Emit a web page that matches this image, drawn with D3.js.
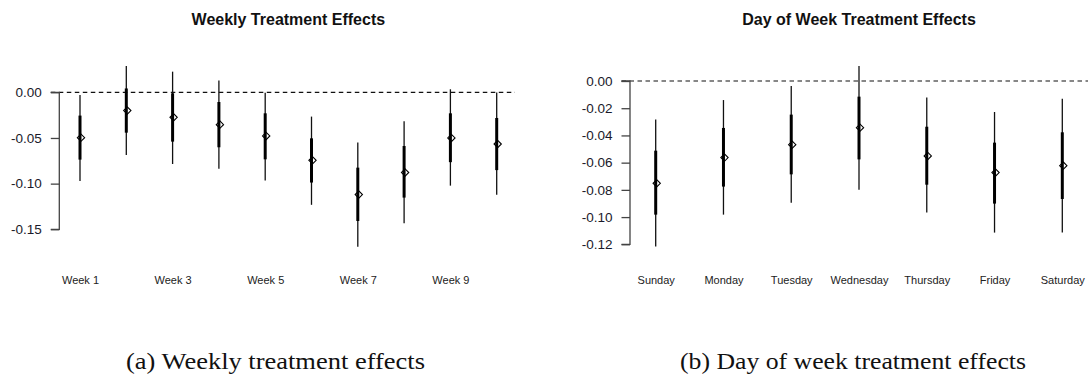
<!DOCTYPE html>
<html><head><meta charset="utf-8">
<script src="https://cdn.jsdelivr.net/npm/d3@7"></script>
<style>
html,body{margin:0;padding:0;background:#fff;}
svg{display:block;}
</style></head>
<body>
<svg id="chart" width="1088" height="375"></svg>
<script>
// ---- Data ----
const weekCategories = ["Week 1","Week 2","Week 3","Week 4","Week 5","Week 6","Week 7","Week 8","Week 9","Week 10"];
const weekShownLabels = ["Week 1","Week 3","Week 5","Week 7","Week 9"];
const weekEstimate = [-0.0497,-0.0200,-0.0274,-0.0354,-0.0478,-0.0745,-0.1120,-0.0878,-0.0500,-0.0566];
const weekInnerLow = [-0.0737,-0.0442,-0.0540,-0.0602,-0.0734,-0.0988,-0.1409,-0.1153,-0.0765,-0.0852];
const weekInnerHigh = [-0.0255,0.0042,-0.0011,-0.0106,-0.0230,-0.0504,-0.0825,-0.0588,-0.0230,-0.0281];
const weekOuterLow = [-0.0971,-0.0686,-0.0785,-0.0836,-0.0967,-0.1232,-0.1690,-0.1434,-0.1022,-0.1122];
const weekOuterHigh = [-0.0029,0.0288,0.0226,0.0128,-0.0005,-0.0266,-0.0551,-0.0318,0.0033,-0.0002];
const weekTicks = [0, -0.05, -0.10, -0.15];

const dayCategories = ["Sunday","Monday","Tuesday","Wednesday","Thursday","Friday","Saturday"];
const dayEstimate = [-0.0752,-0.0563,-0.0468,-0.0343,-0.0551,-0.0673,-0.0622];
const dayInnerLow = [-0.0982,-0.0776,-0.0686,-0.0576,-0.0762,-0.0901,-0.0867];
const dayInnerHigh = [-0.0512,-0.0345,-0.0247,-0.0115,-0.0336,-0.0453,-0.0377];
const dayOuterLow = [-0.1217,-0.0982,-0.0894,-0.0800,-0.0967,-0.1114,-0.1114];
const dayOuterHigh = [-0.0282,-0.0140,-0.0037,0.0110,-0.0122,-0.0228,-0.0130];
const dayTicks = [0, -0.02, -0.04, -0.06, -0.08, -0.10, -0.12];

const captions = ["(a) Weekly treatment effects", "(b) Day of week treatment effects"];

const SANS = "'Liberation Sans',Arial,sans-serif";
const SERIF = "'Liberation Serif','Times New Roman',serif";
const svg = d3.select("#chart");

function panel(cfg){
  const g = svg.append("g");
  const x = d3.scalePoint().domain(cfg.cats).range(cfg.xRange);
  const y = d3.scaleLinear().domain([0, cfg.ticks[cfg.ticks.length-1]]).range(cfg.yRange);

  // title
  g.append("text").attr("x", (cfg.xRange[0]+cfg.xRange[1])/2).attr("y", 25)
    .attr("text-anchor","middle").style("font-weight","bold").style("font-size","16px")
    .style("font-family", SANS).attr("fill","#111").text(cfg.title);

  // dashed zero line
  g.append("line").attr("x1", cfg.dashX[0]).attr("x2", cfg.dashX[1])
    .attr("y1", y(0)).attr("y2", y(0))
    .attr("stroke","#111").attr("stroke-width",1.2).attr("stroke-dasharray","4.5,3.5");

  // y axis
  const yAxis = d3.axisLeft(y).tickValues(cfg.ticks).tickFormat(d3.format(".2f")).tickSize(8.5).tickPadding(9);
  const ax = g.append("g").attr("transform",`translate(${cfg.axisX},0)`).call(yAxis);
  ax.select(".domain").attr("stroke","#444").attr("stroke-width",1.3).attr("d", `M-8.5,${y(0)}H0V${y(cfg.ticks[cfg.ticks.length-1])}H-8.5`);
  ax.selectAll(".tick line").attr("stroke","#444").attr("stroke-width",1.3);
  ax.selectAll(".tick text").style("font-size","13.5px").attr("fill","#1a1a2a")
    .style("font-family", SANS).text(d => d3.format(".2f")(d).replace("−","-"));

  // x labels
  const xAxis = d3.axisBottom(x).tickValues(cfg.shown).tickSize(0).tickPadding(0);
  const xa = g.append("g").attr("transform",`translate(0,276)`).call(xAxis);
  xa.select(".domain").remove();
  xa.selectAll(".tick text").style("font-size","11px").attr("fill","#222").attr("dy","0.71em")
    .style("font-family", SANS);

  const idx = d3.range(cfg.cats.length);
  g.selectAll(".thin").data(idx).join("line")
    .attr("x1", i => x(cfg.cats[i])).attr("x2", i => x(cfg.cats[i]))
    .attr("y1", i => y(cfg.oh[i])).attr("y2", i => y(cfg.ol[i]))
    .attr("stroke","#111").attr("stroke-width",1.3);
  g.selectAll(".thick").data(idx).join("line")
    .attr("x1", i => x(cfg.cats[i])).attr("x2", i => x(cfg.cats[i]))
    .attr("y1", i => y(cfg.ih[i])).attr("y2", i => y(cfg.il[i]))
    .attr("stroke","#000").attr("stroke-width",3);
  const dsym = d3.symbol().type(d3.symbolDiamond2).size(34);
  g.selectAll(".pt").data(idx).join("path")
    .attr("d", dsym())
    .attr("transform", i => `translate(${x(cfg.cats[i])+1},${y(cfg.est[i])})`)
    .attr("fill","none").attr("stroke","#000").attr("stroke-width",1.1);
}

panel({cats: weekCategories, shown: weekShownLabels, est: weekEstimate, il: weekInnerLow, ih: weekInnerHigh,
  ol: weekOuterLow, oh: weekOuterHigh, ticks: weekTicks, title: "Weekly Treatment Effects",
  xRange: [80, 496.7], yRange: [92.3, 229.3], axisX: 59.3, dashX: [50.8, 515]});

panel({cats: dayCategories, shown: dayCategories, est: dayEstimate, il: dayInnerLow, ih: dayInnerHigh,
  ol: dayOuterLow, oh: dayOuterHigh, ticks: dayTicks, title: "Day of Week Treatment Effects",
  xRange: [655.7, 1062.3], yRange: [81, 244.3], axisX: 630, dashX: [621.5, 1088]});

// captions
const capX = [275.5, 853];
const capW = [299, 346];
svg.selectAll(".cap").data(captions).join("text")
  .attr("x", (d,i) => capX[i]).attr("y", 369)
  .attr("text-anchor","middle")
  .attr("textLength", (d,i) => capW[i]).attr("lengthAdjust","spacingAndGlyphs")
  .style("font-family", SERIF).style("font-size","23.5px").attr("fill","#111").text(d => d);
</script>
</body></html>
